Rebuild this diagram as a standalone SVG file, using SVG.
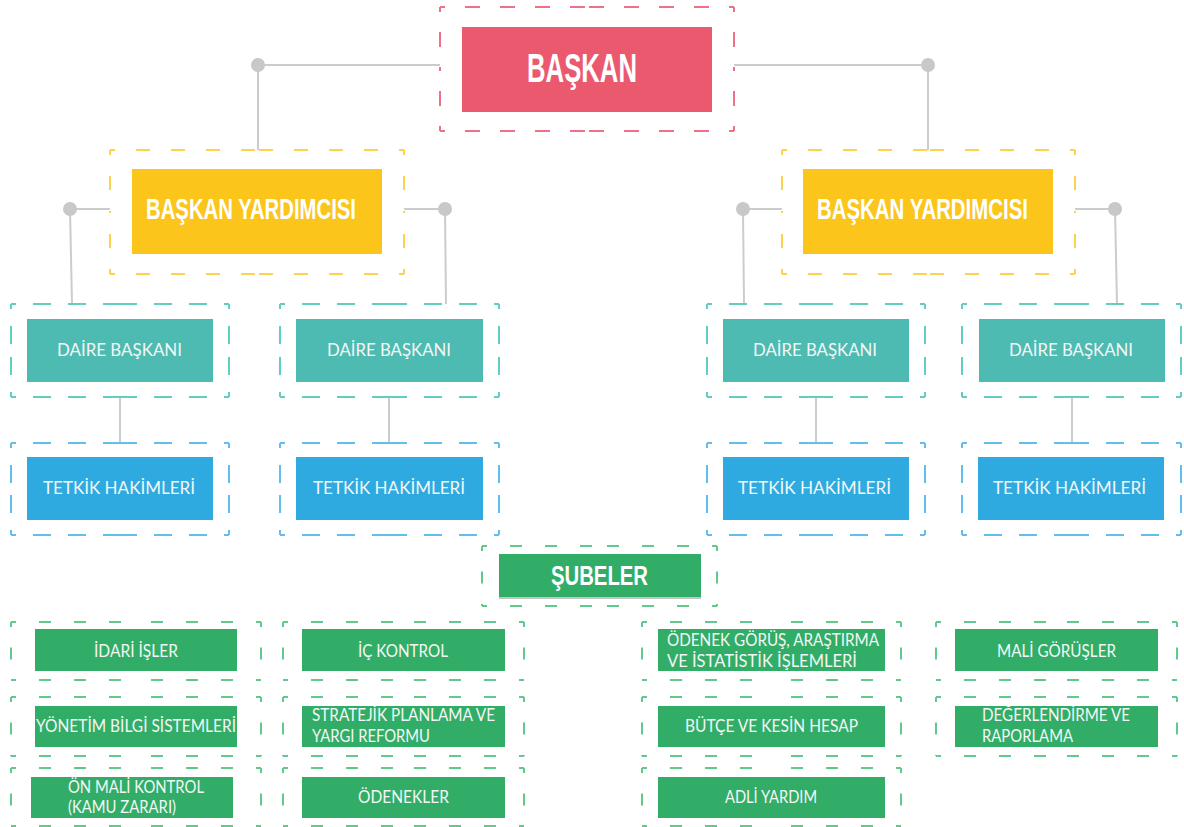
<svg xmlns="http://www.w3.org/2000/svg" width="1184" height="827" viewBox="0 0 1184 827">
<style>
.bg{fill:#ffffff}
.dr{fill:none;stroke:#ee7287;stroke-width:2;stroke-dasharray:15 20;stroke-dashoffset:10}
.dy{fill:none;stroke:#fdd24c;stroke-width:2;stroke-dasharray:14 21;stroke-dashoffset:9}
.dt{fill:none;stroke:#63cdbf;stroke-width:2;stroke-dasharray:18 17;stroke-dashoffset:13}
.db{fill:none;stroke:#62bfe9;stroke-width:2;stroke-dasharray:18 17;stroke-dashoffset:13}
.dg{fill:none;stroke:#62c98e;stroke-width:2;stroke-dasharray:12 23;stroke-dashoffset:7}
.dgv{fill:none;stroke:#62c98e;stroke-width:2;stroke-dasharray:5 20.5 12 20.5 5 60}
.fr{fill:#eb596f}
.fy{fill:#fbc51c}
.ft{fill:#4dbbb1}
.fb{fill:#2eaae1}
.fg{fill:#31ad68}
.con{fill:none;stroke:#cccccc;stroke-width:2}
.dot{fill:#c8c8c8}
.tb{font-family:"Liberation Sans",Arial,sans-serif;font-weight:bold;fill:#ffffff}
.tr{font-family:Lato,"Open Sans",sans-serif;fill:#f3f7f5}
</style>
<rect class="bg" x="0" y="0" width="1184" height="827"/>

<g id="connectors">
<path class="con" d="M440 65H258V150"/>
<path class="con" d="M734 65H928V150"/>
<path class="con" d="M110 209H70L72 304"/>
<path class="con" d="M404 209H445L446 304"/>
<path class="con" d="M782 209H743L744 304"/>
<path class="con" d="M1075 209H1115L1117 304"/>
<path class="con" d="M120 397V443"/>
<path class="con" d="M389 397V443"/>
<path class="con" d="M816 397V443"/>
<path class="con" d="M1072 397V443"/>
<circle class="dot" cx="258" cy="65" r="7"/>
<circle class="dot" cx="928" cy="65" r="7"/>
<circle class="dot" cx="70" cy="209" r="7"/>
<circle class="dot" cx="445" cy="209" r="7"/>
<circle class="dot" cx="743" cy="209" r="7"/>
<circle class="dot" cx="1115" cy="209" r="7"/>
</g>

<g id="baskan">
<path class="dr" d="M440 7h147M734 7h-147M734 7v62M734 131v-62M734 131h-147M440 131h147M440 131v-62M440 7v62"/>
<rect class="fr" x="462" y="27" width="250" height="85"/>
<text class="tb" x="527" y="82" font-size="40" textLength="110" lengthAdjust="spacingAndGlyphs">BAŞKAN</text>
</g>

<g id="yardimci-sol">
<path class="dy" d="M110 150h147M404 150h-147M404 150v62M404 274v-62M404 274h-147M110 274h147M110 274v-62M110 150v62"/>
<rect class="fy" x="132" y="169" width="250" height="85"/>
<text class="tb" x="146" y="219" font-size="29" textLength="210" lengthAdjust="spacingAndGlyphs">BAŞKAN YARDIMCISI</text>
</g>

<g id="yardimci-sag">
<path class="dy" d="M782 150h146.5M1075 150h-146.5M1075 150v62M1075 274v-62M1075 274h-146.5M782 274h146.5M782 274v-62M782 150v62"/>
<rect class="fy" x="803" y="169" width="250" height="85"/>
<text class="tb" x="817" y="219" font-size="29" textLength="211" lengthAdjust="spacingAndGlyphs">BAŞKAN YARDIMCISI</text>
</g>

<g id="daire-1">
<path class="dt" d="M11 304h109M229 304h-109M229 304v46.5M229 397v-46.5M229 397h-109M11 397h109M11 397v-46.5M11 304v46.5"/>
<rect class="ft" x="27" y="319" width="186" height="63"/>
<text class="tr" x="57" y="356" font-size="17" textLength="125" lengthAdjust="spacingAndGlyphs">DAİRE BAŞKANI</text>
</g>
<g id="daire-2">
<path class="dt" d="M280 304h109.5M499 304h-109.5M499 304v46.5M499 397v-46.5M499 397h-109.5M280 397h109.5M280 397v-46.5M280 304v46.5"/>
<rect class="ft" x="296" y="319" width="187" height="63"/>
<text class="tr" x="327" y="356" font-size="17" textLength="124" lengthAdjust="spacingAndGlyphs">DAİRE BAŞKANI</text>
</g>
<g id="daire-3">
<path class="dt" d="M707 304h109M925 304h-109M925 304v46.5M925 397v-46.5M925 397h-109M707 397h109M707 397v-46.5M707 304v46.5"/>
<rect class="ft" x="723" y="319" width="186" height="63"/>
<text class="tr" x="753" y="356" font-size="17" textLength="124" lengthAdjust="spacingAndGlyphs">DAİRE BAŞKANI</text>
</g>
<g id="daire-4">
<path class="dt" d="M962 304h109.5M1181 304h-109.5M1181 304v46.5M1181 397v-46.5M1181 397h-109.5M962 397h109.5M962 397v-46.5M962 304v46.5"/>
<rect class="ft" x="979" y="319" width="186" height="63"/>
<text class="tr" x="1009" y="356" font-size="17" textLength="124" lengthAdjust="spacingAndGlyphs">DAİRE BAŞKANI</text>
</g>

<g id="tetkik-1">
<path class="db" d="M11 443h109M229 443h-109M229 443v46M229 535v-46M229 535h-109M11 535h109M11 535v-46M11 443v46"/>
<rect class="fb" x="27" y="457" width="186" height="63"/>
<text class="tr" x="43" y="494" font-size="17" textLength="152" lengthAdjust="spacingAndGlyphs">TETKİK HAKİMLERİ</text>
</g>
<g id="tetkik-2">
<path class="db" d="M280 443h109.5M499 443h-109.5M499 443v46M499 535v-46M499 535h-109.5M280 535h109.5M280 535v-46M280 443v46"/>
<rect class="fb" x="296" y="457" width="187" height="63"/>
<text class="tr" x="313" y="494" font-size="17" textLength="152" lengthAdjust="spacingAndGlyphs">TETKİK HAKİMLERİ</text>
</g>
<g id="tetkik-3">
<path class="db" d="M707 443h109M925 443h-109M925 443v46M925 535v-46M925 535h-109M707 535h109M707 535v-46M707 443v46"/>
<rect class="fb" x="723" y="457" width="186" height="63"/>
<text class="tr" x="738" y="494" font-size="17" textLength="153" lengthAdjust="spacingAndGlyphs">TETKİK HAKİMLERİ</text>
</g>
<g id="tetkik-4">
<path class="db" d="M962 443h109.5M1181 443h-109.5M1181 443v46M1181 535v-46M1181 535h-109.5M962 535h109.5M962 535v-46M962 443v46"/>
<rect class="fb" x="978" y="457" width="186" height="63"/>
<text class="tr" x="993" y="494" font-size="17" textLength="153" lengthAdjust="spacingAndGlyphs">TETKİK HAKİMLERİ</text>
</g>

<g id="subeler">
<path class="dg" d="M482 546h117.5M717 546h-117.5M717 606h-117.5M482 606h117.5"/>
<path class="dgv" d="M482 546v60M717 546v60"/>
<rect x="499" y="596" width="202" height="3" fill="#c4c4c4"/>
<rect class="fg" x="499" y="554" width="202" height="43"/>
<text class="tb" x="551" y="585" font-size="27" textLength="97" lengthAdjust="spacingAndGlyphs">ŞUBELER</text>
</g>

<g id="idari-isler">
<path class="dg" d="M11 622h125M261 622h-125M261 680h-125M11 680h125"/>
<path class="dgv" d="M11 622v58M261 622v58"/>
<rect class="fg" x="35" y="629" width="202" height="42"/>
<text class="tr" x="94" y="657" font-size="16.5" textLength="84" lengthAdjust="spacingAndGlyphs">İDARİ İŞLER</text>
</g>
<g id="yonetim-bilgi">
<path class="dg" d="M11 697h125M261 697h-125M261 756h-125M11 756h125"/>
<path class="dgv" d="M11 697v59M261 697v59"/>
<rect class="fg" x="35" y="706" width="202" height="41"/>
<text class="tr" x="36" y="732" font-size="16.5" textLength="200" lengthAdjust="spacingAndGlyphs">YÖNETİM BİLGİ SİSTEMLERİ</text>
</g>
<g id="on-mali-kontrol">
<path class="dg" d="M11 768h125M261 768h-125M261 826h-125M11 826h125"/>
<path class="dgv" d="M11 768v58M261 768v58"/>
<rect class="fg" x="31" y="777" width="202" height="41"/>
<text class="tr" x="68" y="793" font-size="16.5" textLength="136" lengthAdjust="spacingAndGlyphs">ÖN MALİ KONTROL</text>
<text class="tr" x="68" y="813" font-size="16.5" textLength="108" lengthAdjust="spacingAndGlyphs">(KAMU ZARARI)</text>
</g>

<g id="ic-kontrol">
<path class="dg" d="M283 622h120.5M524 622h-120.5M524 680h-120.5M283 680h120.5"/>
<path class="dgv" d="M283 622v58M524 622v58"/>
<rect class="fg" x="302" y="629" width="203" height="42"/>
<text class="tr" x="358" y="657" font-size="16.5" textLength="90" lengthAdjust="spacingAndGlyphs">İÇ KONTROL</text>
</g>
<g id="stratejik">
<path class="dg" d="M283 697h120.5M524 697h-120.5M524 756h-120.5M283 756h120.5"/>
<path class="dgv" d="M283 697v59M524 697v59"/>
<rect class="fg" x="302" y="706" width="203" height="41"/>
<text class="tr" x="312" y="721" font-size="16.5" textLength="183" lengthAdjust="spacingAndGlyphs">STRATEJİK PLANLAMA VE</text>
<text class="tr" x="312" y="742" font-size="16.5" textLength="118" lengthAdjust="spacingAndGlyphs">YARGI REFORMU</text>
</g>
<g id="odenekler">
<path class="dg" d="M283 768h120.5M524 768h-120.5M524 826h-120.5M283 826h120.5"/>
<path class="dgv" d="M283 768v58M524 768v58"/>
<rect class="fg" x="302" y="777" width="203" height="41"/>
<text class="tr" x="358" y="803" font-size="16.5" textLength="91" lengthAdjust="spacingAndGlyphs">ÖDENEKLER</text>
</g>

<g id="odenek-gorus">
<path class="dg" d="M642 622h129.5M901 622h-129.5M901 680h-129.5M642 680h129.5"/>
<path class="dgv" d="M642 622v58M901 622v58"/>
<rect class="fg" x="658" y="629" width="227" height="42"/>
<text class="tr" x="667" y="646" font-size="16.5" textLength="212" lengthAdjust="spacingAndGlyphs">ÖDENEK GÖRÜŞ, ARAŞTIRMA</text>
<text class="tr" x="667" y="667" font-size="16.5" textLength="190" lengthAdjust="spacingAndGlyphs">VE İSTATİSTİK İŞLEMLERİ</text>
</g>
<g id="butce">
<path class="dg" d="M642 697h129.5M901 697h-129.5M901 756h-129.5M642 756h129.5"/>
<path class="dgv" d="M642 697v59M901 697v59"/>
<rect class="fg" x="658" y="706" width="227" height="41"/>
<text class="tr" x="685" y="732" font-size="16.5" textLength="173" lengthAdjust="spacingAndGlyphs">BÜTÇE VE KESİN HESAP</text>
</g>
<g id="adli-yardim">
<path class="dg" d="M642 768h129.5M901 768h-129.5M901 826h-129.5M642 826h129.5"/>
<path class="dgv" d="M642 768v58M901 768v58"/>
<rect class="fg" x="658" y="777" width="227" height="41"/>
<text class="tr" x="725" y="803" font-size="16.5" textLength="92" lengthAdjust="spacingAndGlyphs">ADLİ YARDIM</text>
</g>

<g id="mali-gorusler">
<path class="dg" d="M936 622h120.5M1177 622h-120.5M1177 680h-120.5M936 680h120.5"/>
<path class="dgv" d="M936 622v58M1177 622v58"/>
<rect class="fg" x="955" y="629" width="203" height="42"/>
<text class="tr" x="997" y="657" font-size="16.5" textLength="119" lengthAdjust="spacingAndGlyphs">MALİ GÖRÜŞLER</text>
</g>
<g id="degerlendirme">
<path class="dg" d="M936 697h120.5M1177 697h-120.5M1177 756h-120.5M936 756h120.5"/>
<path class="dgv" d="M936 697v59M1177 697v59"/>
<rect class="fg" x="955" y="706" width="203" height="41"/>
<text class="tr" x="982" y="721" font-size="16.5" textLength="148" lengthAdjust="spacingAndGlyphs">DEĞERLENDİRME VE</text>
<text class="tr" x="982" y="742" font-size="16.5" textLength="91" lengthAdjust="spacingAndGlyphs">RAPORLAMA</text>
</g>
</svg>
